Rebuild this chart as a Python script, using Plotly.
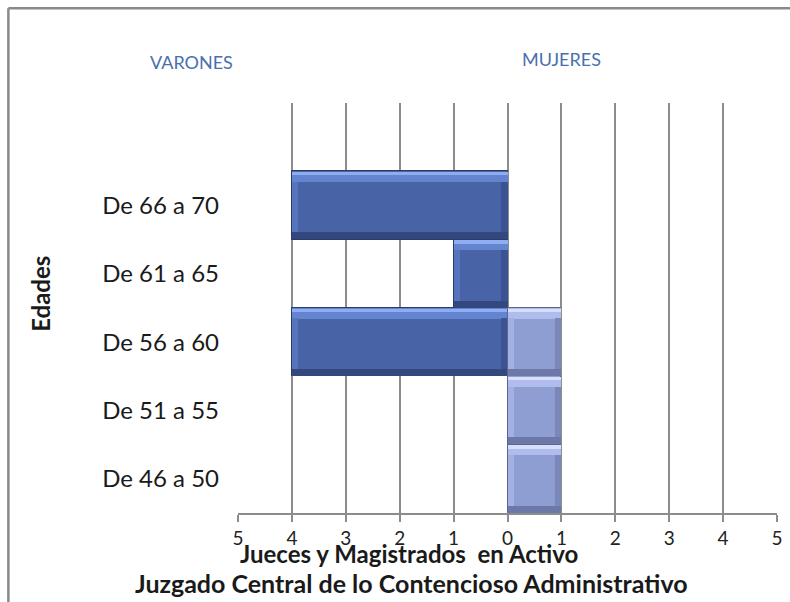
import plotly.graph_objects as go

# Age bands (bottom to top) and head counts per sex
edades = ["De 46 a 50", "De 51 a 55", "De 56 a 60", "De 61 a 65", "De 66 a 70"]
varones = [0, 0, 4, 1, 4]
mujeres = [1, 1, 1, 0, 0]

x_ticks = [-5, -4, -3, -2, -1, 0, 1, 2, 3, 4, 5]
x_tick_text = ["5", "4", "3", "2", "1", "0", "1", "2", "3", "4", "5"]

FONT = "Lato, 'Open Sans', sans-serif"

# Colour sets for the bevelled bars: main, top light, top highlight, bottom shade, left edge, right edge, outline
PAL_V = dict(main="#4963a7", top="#6384cf", hi="#8fadf0", bot="#33487f",
             left="#5574bd", right="#3b5392", line="#2c3b63")
PAL_M = dict(main="#8f9ed2", top="#b0bdec", hi="#d6defa", bot="#6c78a8",
             left="#a3b1e2", right="#7a87b8", line="#5b6590")

fig = go.Figure()


def add_bevel_bar(values, pal, sign):
    """Draw one series as horizontal bars with a simple bevel look."""
    vals = [sign * v if v else None for v in values]
    n = len(edades)
    # main body
    fig.add_trace(go.Bar(y=edades, x=vals, orientation="h", width=[1] * n,
                         marker=dict(color=pal["main"], line=dict(color=pal["line"], width=1)),
                         hoverinfo="skip"))
    # bottom shade band
    fig.add_trace(go.Bar(y=edades, x=vals, orientation="h", width=[0.1] * n, offset=[-0.495] * n,
                         marker=dict(color=pal["bot"], line=dict(width=0)), hoverinfo="skip"))
    # top light band
    fig.add_trace(go.Bar(y=edades, x=vals, orientation="h", width=[0.15] * n, offset=[0.345] * n,
                         marker=dict(color=pal["top"], line=dict(width=0)), hoverinfo="skip"))
    # top highlight line
    fig.add_trace(go.Bar(y=edades, x=vals, orientation="h", width=[0.05] * n, offset=[0.44] * n,
                         marker=dict(color=pal["hi"], line=dict(width=0)), hoverinfo="skip"))
    # side edges: left and right strips along each bar end
    edge = 0.12
    left_base, right_base, edge_x = [], [], []
    for v in values:
        if v:
            lo, hi = (-v, 0) if sign < 0 else (0, v)
            left_base.append(lo)
            right_base.append(hi - edge)
            edge_x.append(edge)
        else:
            left_base.append(0)
            right_base.append(0)
            edge_x.append(None)
    fig.add_trace(go.Bar(y=edades, x=edge_x, base=left_base, orientation="h",
                         width=[0.745] * n, offset=[-0.395] * n,
                         marker=dict(color=pal["left"], line=dict(width=0)), hoverinfo="skip"))
    fig.add_trace(go.Bar(y=edades, x=edge_x, base=right_base, orientation="h",
                         width=[0.745] * n, offset=[-0.395] * n,
                         marker=dict(color=pal["right"], line=dict(width=0)), hoverinfo="skip"))


add_bevel_bar(varones, PAL_V, -1)
add_bevel_bar(mujeres, PAL_M, 1)

fig.update_layout(
    width=790, height=602,
    margin=dict(l=238, r=13, t=103, b=89, autoexpand=False),
    paper_bgcolor="white", plot_bgcolor="white",
    barmode="overlay", bargap=0,
    showlegend=False,
    font=dict(family=FONT, color="#1a1a1a"),
    xaxis=dict(range=[-5, 5], tickvals=x_ticks, ticktext=x_tick_text,
               showgrid=True, gridcolor="#8c8c8c", gridwidth=2,
               zeroline=False, showline=True, linecolor="#8c8c8c", linewidth=2,
               ticks="outside", ticklen=7, tickwidth=2, tickcolor="#8c8c8c",
               ticklabelstandoff=0, automargin=False,
               tickfont=dict(size=19, color="#222"), fixedrange=True),
    yaxis=dict(range=[-0.5, 5.5], categoryorder="array", categoryarray=edades,
               showgrid=False, zeroline=False, showline=False,
               ticks="", ticklabelstandoff=18, automargin=False,
               tickfont=dict(size=24, color="#1a1a1a"), fixedrange=True),
    shapes=[
        dict(type="line", xref="paper", yref="paper", x0=-0.426, x1=1.05, y0=1.231, y1=1.231,
             line=dict(color="#8a8a8a", width=2.5)),
        dict(type="line", xref="paper", yref="paper", x0=-0.426, x1=-0.426, y0=1.231, y1=-0.23,
             line=dict(color="#8a8a8a", width=2.5)),
    ],
    annotations=[
        dict(text="VARONES", xref="paper", yref="paper", x=-0.087, y=1.1, showarrow=False,
             xanchor="center", yanchor="middle",
             font=dict(size=18, color="#4a6fae", family=FONT)),
        dict(text="MUJERES", xref="paper", yref="paper", x=0.6, y=1.107, showarrow=False,
             xanchor="center", yanchor="middle",
             font=dict(size=18, color="#4a6fae", family=FONT)),
        dict(text="<b>Edades</b>", xref="paper", yref="paper", x=-0.367, y=0.535, showarrow=False,
             xanchor="center", yanchor="middle",
             textangle=-90, font=dict(size=24, color="#1a1a1a", family=FONT)),
        dict(text="<b>Jueces y Magistrados  en Activo</b>", xref="paper", yref="paper",
             x=0.318, y=-0.0976, showarrow=False, xanchor="center", yanchor="middle",
             font=dict(size=24, color="#1a1a1a", family=FONT)),
        dict(text="<b>Juzgado Central de lo Contencioso Administrativo</b>", xref="paper", yref="paper",
             x=0.322, y=-0.171, showarrow=False, xanchor="center", yanchor="middle",
             font=dict(size=25, color="#1a1a1a", family=FONT)),
    ],
)

fig.write_html("out.html")
